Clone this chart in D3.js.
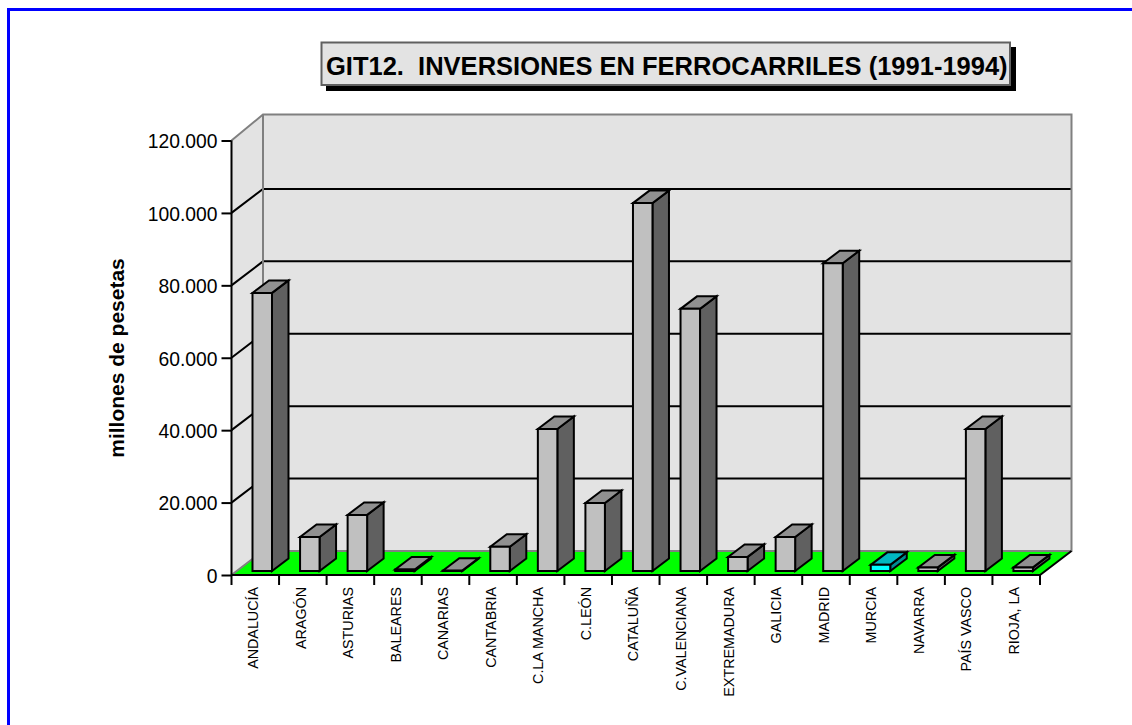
<!DOCTYPE html>
<html>
<head>
<meta charset="utf-8">
<script src="https://cdn.jsdelivr.net/npm/d3@7"></script>
<style>
html, body { margin: 0; padding: 0; background: #fff; }
svg { display: block; }
text { font-family: "Liberation Sans", Arial, sans-serif; fill: #000; }
</style>
</head>
<body>
<svg width="1132" height="725"></svg>
<script>
var categories = ["ANDALUCÍA","ARAGÓN","ASTURIAS","BALEARES","CANARIAS","CANTABRIA","C.LA MANCHA","C.LEÓN","CATALUÑA","C.VALENCIANA","EXTREMADURA","GALICIA","MADRID","MURCIA","NAVARRA","PAÍS VASCO","RIOJA, LA"];
var values = [76800,9400,15500,400,100,6700,39200,18800,101600,72400,3900,9400,85000,1700,1000,39200,1000];
var yTicks = [0,20000,40000,60000,80000,100000,120000];
var highlighted = ["MURCIA"];

var titleText = "GIT12.  INVERSIONES EN FERROCARRILES (1991-1994)";
var yTitle = "millones de pesetas";

var svg = d3.select("svg");

// front plane of the plot, the walls are pushed back from it
var x0 = 231.5, x1 = 1040, yBottom = 575, yTop = 140.5;
var wallDx = 31.5, wallDy = -24, wallTopDy = -26;
var barInset = 21, barWidth = 19.5, barDx = 16.5, barDy = -12.5, barLift = 4;

var x = d3.scaleBand().domain(categories).range([x0, x1]).padding(0);
var y = d3.scaleLinear().domain([0, 120000]).range([yBottom, yTop]);
var es = d3.formatLocale({decimal: ",", thousands: ".", grouping: [3], currency: ["", ""]});

function poly(pts){
	return "M" + pts.map(function(p){ return p[0] + " " + p[1]; }).join(" L") + " Z";
}
function path_line(a,b,c,d){
	return "M"+a+" "+b+" L"+c+" "+d;
}

// page frame, only top and left
svg.append("path")
	.attr("d", "M8.5 725 L8.5 9.5 L1132 9.5")
	.attr("fill", "none")
	.attr("stroke", "#0000ff")
	.attr("stroke-width", 3);

// walls
var wallTop = y(120000) + wallTopDy;
svg.append("path")
	.attr("d", poly([[x0,yBottom],[x0,yTop],[x0+wallDx,wallTop],[x0+wallDx,yBottom+wallDy]]))
	.attr("fill", "#e3e3e3");
svg.append("path")
	.attr("d", poly([[x0+wallDx,wallTop],[x1+wallDx,wallTop],[x1+wallDx,yBottom+wallDy],[x0+wallDx,yBottom+wallDy]]))
	.attr("fill", "#e3e3e3");

// floor
svg.append("path")
	.attr("d", poly([[x0,yBottom],[x1,yBottom],[x1+wallDx,yBottom+wallDy],[x0+wallDx,yBottom+wallDy]]))
	.attr("fill", "#00ff00");

// grid
svg.selectAll(".grid")
	.data(yTicks.filter(function(d){ return d > 0 && d < 120000; }))
	.enter().append("path")
	.attr("class", "grid")
	.attr("d", function(d){
		return "M"+x0+" "+y(d)+" L"+(x0+wallDx)+" "+(y(d)+wallDy)+" L"+(x1+wallDx)+" "+(y(d)+wallDy);
	})
	.attr("fill", "none")
	.attr("stroke", "#000")
	.attr("stroke-width", 2);

// grey wall edges
svg.append("path")
	.attr("d", "M"+x0+" "+yTop+" L"+(x0+wallDx)+" "+wallTop+" L"+(x1+wallDx)+" "+wallTop+" L"+(x1+wallDx)+" "+(yBottom+wallDy)+" L"+(x0+wallDx)+" "+(yBottom+wallDy)+" L"+x0+" "+yBottom+" M"+(x0+wallDx)+" "+wallTop+" L"+(x0+wallDx)+" "+(yBottom+wallDy))
	.attr("fill", "none")
	.attr("stroke", "#808080")
	.attr("stroke-width", 2);

// floor front and right edge
svg.append("path")
	.attr("d", "M"+x0+" "+yBottom+" L"+x1+" "+yBottom+" L"+(x1+wallDx)+" "+(yBottom+wallDy))
	.attr("fill", "none")
	.attr("stroke", "#000")
	.attr("stroke-width", 2);

// bars
var bars = svg.selectAll(".bar")
	.data(categories.map(function(c,i){ return {name:c, value:values[i]}; }))
	.enter().append("g")
	.attr("class", "bar");

function isCyan(d){ return highlighted.indexOf(d.name) >= 0; }

bars.each(function(d){
	var g = d3.select(this);
	var l = x(d.name) + barInset, r = l + barWidth;
	var b = yBottom - barLift, t = y(d.value) - barLift;
	var cyan = isCyan(d);
	g.append("path")
		.attr("d", poly([[r,b],[r,t],[r+barDx,t+barDy],[r+barDx,b+barDy]]))
		.attr("fill", cyan ? "#008c90" : "#606060");
	g.append("path")
		.attr("d", poly([[l,t],[r,t],[r+barDx,t+barDy],[l+barDx,t+barDy]]))
		.attr("fill", cyan ? "#00b8c0" : "#909090");
	g.append("path")
		.attr("d", poly([[l,b],[r,b],[r,t],[l,t]]))
		.attr("fill", cyan ? "#00ffff" : "#c0c0c0");
	g.selectAll("path")
		.attr("stroke", "#000")
		.attr("stroke-width", 2)
		.attr("stroke-linejoin", "miter");
});

// y axis
var yAxis = d3.axisLeft(y)
	.tickValues(yTicks)
	.tickSize(10)
	.tickPadding(4)
	.tickFormat(function(d){ return es.format(",")(d); });
var yG = svg.append("g").attr("transform", "translate("+x0+",0)").call(yAxis);
yG.select(".domain").attr("d", path_line(0,yBottom,0,yTop)).attr("stroke", "#000").attr("stroke-width", 2);
yG.selectAll(".tick line").attr("stroke", "#000").attr("stroke-width", 2);
yG.selectAll(".tick text")
	.attr("dy", "0.38em")
	.style("font-family", '"Liberation Sans", Arial, sans-serif')
	.style("font-size", "19.3px");

// x ticks sit on the band edges
var edges = categories.map(function(c){ return x(c); }).concat([x1]);
svg.selectAll(".xtick")
	.data(edges)
	.enter().append("path")
	.attr("class", "xtick")
	.attr("d", function(d){ return path_line(d,yBottom,d,yBottom+10); })
	.attr("stroke", "#000")
	.attr("stroke-width", 2);

svg.selectAll(".xlabel")
	.data(categories)
	.enter().append("text")
	.attr("class", "xlabel")
	.attr("transform", function(d){ return "translate("+(x(d)+barInset+barWidth/2-9.25)+",587) rotate(-90)"; })
	.attr("dy", "0.35em")
	.attr("text-anchor", "end")
	.style("font-size", "14.3px")
	.text(function(d){ return d; });

// y title
svg.append("text")
	.attr("transform", "translate(124,358) rotate(-90)")
	.attr("text-anchor", "middle")
	.style("font-size", "21px")
	.style("font-weight", "bold")
	.text(yTitle);

// title box
svg.append("rect").attr("x", 326).attr("y", 47).attr("width", 690).attr("height", 44).attr("fill", "#000");
svg.append("rect").attr("x", 321.5).attr("y", 42.5).attr("width", 688.5).attr("height", 42.5)
	.attr("fill", "#e3e3e3").attr("stroke", "#606060").attr("stroke-width", 2);
svg.append("text")
	.attr("x", 326)
	.attr("y", 75)
	.attr("xml:space", "preserve")
	.style("white-space", "pre")
	.style("font-size", "25.5px")
	.style("font-weight", "bold")
	.text(titleText);
</script>
</body>
</html>
